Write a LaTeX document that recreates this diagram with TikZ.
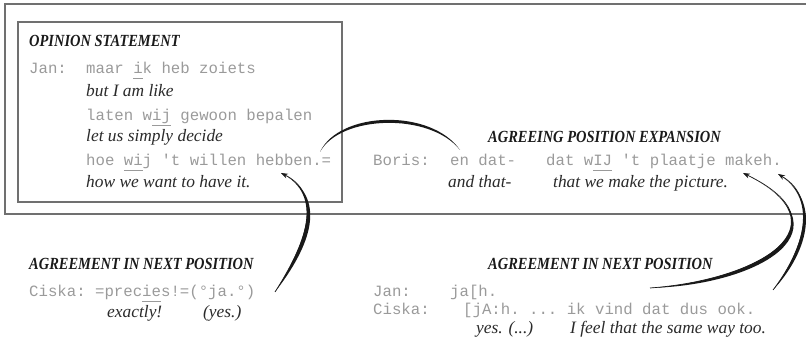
\documentclass[tikz,border=0pt]{standalone}
\usepackage{fontspec}
\setmainfont{Liberation Serif}
\setmonofont{Liberation Mono}
\newfontfamily\hdfont[FakeStretch=0.85]{Liberation Serif}
\usetikzlibrary{arrows.meta}
\definecolor{monogray}{HTML}{9A9A9A}
\definecolor{glossgray}{HTML}{2A2A2A}
\definecolor{hdcol}{HTML}{1A1A1A}
\definecolor{framegray}{HTML}{707070}
\newcommand\ulx[1]{\underline{\vphantom{j}#1}}
\tikzset{
  mono/.style={font=\fontsize{15.7}{18}\selectfont\ttfamily, text=monogray, anchor=base west, inner sep=0pt},
  gloss/.style={font=\fontsize{17.4}{20}\selectfont\itshape, text=glossgray, anchor=base west, inner sep=0pt},
  hd/.style={font=\hdfont\fontsize{17}{20}\selectfont\bfseries\itshape, text=hdcol, anchor=base west, inner sep=0pt},
  frame/.style={draw=framegray, line width=1.4pt},
  brush/.style={fill=black!90},
  spine/.style={draw=black!90, line width=0.7pt},
  tip/.style={-{Stealth[length=7pt,width=5pt]}}
}
\begin{document}
\begin{tikzpicture}[x=1pt,y=-1pt]
\path[use as bounding box] (0,0) rectangle (806,347);
% frames
\draw[frame] (806,4) -- (5,4) -- (5,214) -- (806,214);
\draw[frame] (18,22) rectangle (342,202);

% opinion statement
\node[hd] (h1) at (29,46.7) {OPINION STATEMENT};
\node[mono] (j1) at (29,74) {Jan:};
\node[mono] (t1) at (86,74) {maar \ulx{i}k heb zoiets};
\node[gloss] (g1) at (86,96.7) {but I am like};
\node[mono] (t2) at (86,120.7) {laten w\ulx{ij} gewoon bepalen};
\node[gloss] (g2) at (86,141.7) {let us simply decide};
\node[mono] (t3) at (86,165.7) {hoe \ulx{wi}j 't willen hebben.=};
\node[gloss] (g3) at (86,187.3) {how we want to have it.};

% agreeing position expansion
\node[hd] (h2) at (488,142.5) {AGREEING POSITION EXPANSION};
\node[mono] (b1) at (373,165.7) {Boris:};
\node[mono] (b2) at (450,165.7) {en dat-};
\node[mono] (b3) at (546,165.7) {dat w\ulx{IJ} 't plaatje makeh.};
\node[gloss] (bg2) at (448,187.3) {and that-};
\node[gloss] (bg3) at (553,187.3) {that we make the picture.};

% agreement left
\node[hd] (h3) at (29,270) {AGREEMENT IN NEXT POSITION};
\node[mono] (c1) at (29,297) {Ciska: =prec\ulx{ie}s!=(°ja.°)};
\node[gloss] (cg1) at (107,318) {exactly!};
\node[gloss] (cg2) at (203,318) {(yes.)};

% agreement right
\node[hd] (h4) at (488,270) {AGREEMENT IN NEXT POSITION};
\node[mono] (r1) at (373,297) {Jan:};
\node[mono] (r2) at (450,297) {ja[h.};
\node[mono] (r3) at (373,315) {Ciska:};
\node[mono] (r4) at (463,315) {[jA:h. ... ik vind dat dus ook.};
\node[gloss] (rg1) at (476,334) {yes. (...)};
\node[gloss] (rg2) at (570,334) {I feel that the same way too.};

% connector end points
\coordinate (a1) at (320,152);
\coordinate (a2) at (460,150);
\coordinate (s2) at (275,292);
\coordinate (e2) at (281,173);
\coordinate (s3) at (650,288);
\coordinate (e3) at (743,173);
\coordinate (s4) at (773,290);
\coordinate (e4) at (778,174);

% curve 1: hebben.= <-> en dat- (no heads)
\fill[brush] (a1) .. controls (340,115) and (430,112) .. (a2)
   .. controls (431,108) and (339,111) .. (a1) -- cycle;

% curve 2: Ciska -> hebben.=
\draw[spine,tip] (s2) .. controls (305,245) and (325,195) .. (e2);
\fill[brush] (s2) .. controls (305,245) and (325,195) .. (e2)
   .. controls (330,197) and (310,247) .. (s2) -- cycle;

% curve 3: right agreement -> makeh
\draw[spine,tip] (s3) .. controls (760,280) and (850,225) .. (e3);
\fill[brush] (s3) .. controls (760,280) and (850,225) .. (e3)
   .. controls (855,228) and (762,285) .. (s3) -- cycle;

% curve 4: Ciska right -> makeh.
\draw[spine,tip] (s4) .. controls (800,255) and (822,200) .. (e4);
\fill[brush] (s4) .. controls (800,255) and (822,200) .. (e4)
   .. controls (826,202) and (804,257) .. (s4) -- cycle;
\end{tikzpicture}
\end{document}
